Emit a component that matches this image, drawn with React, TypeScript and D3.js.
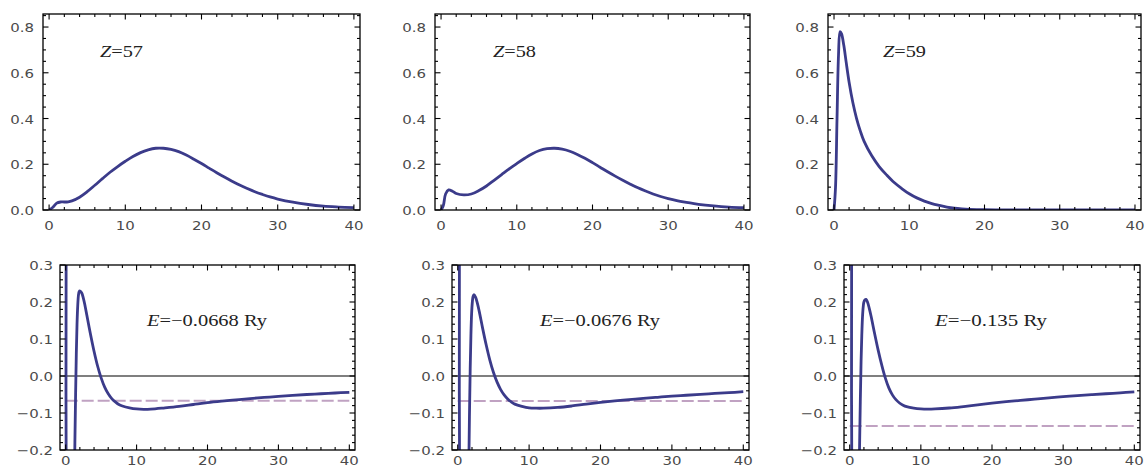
import React from "react";
import * as d3 from "d3";

// ---------- data ----------
const zValues = [57, 58, 59];
const energies = [-0.0668, -0.0676, -0.135];
const energyLabels = ["−0.0668", "−0.0676", "−0.135"];

const xMajorTicks = [0, 10, 20, 30, 40];
const topYTicks = [0, 0.2, 0.4, 0.6, 0.8];
const bottomYTicks = [-0.2, -0.1, 0, 0.1, 0.2, 0.3];

// radial densities (top row)
const densR57 = [0, 0.5, 1, 1.5, 2, 2.5, 3, 4, 5, 6, 7, 8, 9, 10, 11, 12, 13, 14, 15, 16, 17, 18, 19, 20, 21, 22, 23, 24, 25, 26, 27, 28, 29, 30, 32, 34, 36, 38, 40];
const dens57 = [0, 0.012, 0.03, 0.035, 0.035, 0.036, 0.04, 0.056, 0.08, 0.108, 0.137, 0.165, 0.19, 0.213, 0.234, 0.251, 0.263, 0.27, 0.27, 0.265, 0.255, 0.24, 0.222, 0.203, 0.183, 0.163, 0.144, 0.126, 0.109, 0.094, 0.08, 0.068, 0.057, 0.048, 0.034, 0.024, 0.017, 0.013, 0.01];

const densR58 = [0, 0.3, 0.6, 1, 1.5, 2, 3, 4, 5, 6, 7, 8, 9, 10, 11, 12, 13, 14, 15, 16, 17, 18, 19, 20, 21, 22, 23, 24, 25, 26, 27, 28, 29, 30, 32, 34, 36, 38, 40];
const dens58 = [0, 0.02, 0.07, 0.088, 0.082, 0.072, 0.066, 0.07, 0.085, 0.105, 0.13, 0.155, 0.18, 0.203, 0.225, 0.245, 0.26, 0.268, 0.27, 0.266, 0.257, 0.243, 0.226, 0.207, 0.187, 0.167, 0.148, 0.13, 0.113, 0.097, 0.083, 0.07, 0.059, 0.05, 0.035, 0.025, 0.018, 0.013, 0.01];

const densR59 = [0, 0.2, 0.4, 0.6, 0.8, 1.0, 1.3, 1.6, 2, 2.5, 3, 3.5, 4, 5, 6, 7, 8, 9, 10, 11, 12, 13, 14, 15, 16, 17, 18, 20, 22, 25, 30, 40];
const dens59 = [0, 0.1, 0.4, 0.68, 0.78, 0.77, 0.72, 0.65, 0.56, 0.47, 0.4, 0.345, 0.3, 0.238, 0.19, 0.153, 0.12, 0.094, 0.071, 0.053, 0.039, 0.028, 0.02, 0.013, 0.008, 0.005, 0.003, 0.001, 0.0005, 0.0002, 0, 0];

// potentials (bottom row)
const potR57 = [0.08, 0.12, 0.5, 1.0, 1.2, 1.3, 1.4, 1.5, 1.6, 1.7, 1.8, 1.9, 2.0, 2.25, 2.5, 2.75, 3.0, 3.5, 4.0, 4.5, 5.0, 5.5, 6.0, 6.5, 7.0, 7.5, 8, 9, 10, 11, 12, 14, 16, 18, 20, 22, 24, 26, 28, 30, 32, 34, 36, 38, 40];
const pot57 = [0.6, -0.6, -1, -0.6, -0.35, -0.18, -0.05, 0.06, 0.14, 0.19, 0.218, 0.228, 0.23, 0.225, 0.21, 0.188, 0.163, 0.113, 0.067, 0.027, -0.005, -0.03, -0.048, -0.061, -0.07, -0.077, -0.081, -0.086, -0.089, -0.09, -0.0895, -0.086, -0.082, -0.077, -0.072, -0.068, -0.0645, -0.061, -0.058, -0.055, -0.0525, -0.05, -0.048, -0.046, -0.044];

const potR58 = [0.25, 0.33, 0.8, 1.4, 1.55, 1.65, 1.75, 1.85, 1.95, 2.05, 2.15, 2.28, 2.5, 2.75, 3.0, 3.5, 4.0, 4.5, 5.0, 5.5, 6.0, 6.5, 7.0, 7.5, 8, 9, 10, 11, 12, 14, 16, 18, 20, 22, 24, 26, 28, 30, 32, 34, 36, 38, 40];
const pot58 = [0.6, -0.6, -1, -0.5, -0.25, -0.1, 0.02, 0.11, 0.17, 0.2, 0.215, 0.22, 0.213, 0.197, 0.176, 0.128, 0.083, 0.043, 0.01, -0.016, -0.036, -0.051, -0.062, -0.07, -0.076, -0.082, -0.086, -0.087, -0.087, -0.085, -0.081, -0.076, -0.0715, -0.0675, -0.064, -0.0605, -0.0575, -0.0545, -0.052, -0.0495, -0.0472, -0.045, -0.0425];

const potR59 = [0.28, 0.36, 0.8, 1.2, 1.38, 1.5, 1.6, 1.7, 1.8, 1.9, 2.0, 2.15, 2.3, 2.5, 2.75, 3.0, 3.5, 4.0, 4.5, 5.0, 5.5, 6.0, 6.5, 7.0, 7.5, 8, 9, 10, 11, 12, 14, 16, 18, 20, 22, 24, 26, 28, 30, 32, 34, 36, 38, 40];
const pot59 = [0.6, -0.6, -1, -0.5, -0.2, -0.06, 0.04, 0.11, 0.16, 0.187, 0.2, 0.206, 0.207, 0.2, 0.183, 0.162, 0.115, 0.07, 0.03, -0.005, -0.032, -0.051, -0.064, -0.073, -0.079, -0.083, -0.087, -0.089, -0.0895, -0.089, -0.0865, -0.0825, -0.078, -0.0735, -0.0695, -0.066, -0.0625, -0.059, -0.056, -0.053, -0.0505, -0.048, -0.0455, -0.043];

// ---------- layout ----------
const W = 1146;
const H = 474;
const topFrames = [
  { left: 43, right: 360, top: 14, bottom: 210 },
  { left: 435, right: 750, top: 14, bottom: 210 },
  { left: 828, right: 1141, top: 14, bottom: 210 },
];
const bottomFrames = [
  { left: 60, right: 355, top: 265, bottom: 450 },
  { left: 452, right: 749, top: 265, bottom: 450 },
  { left: 844, right: 1140, top: 265, bottom: 450 },
];
const zLabelPos = [{ x: 100 }, { x: 493 }, { x: 883 }];
const eLabelPos = [{ x: 147, w: 120 }, { x: 540, w: 120 }, { x: 935, w: 112 }];

const CURVE = "#3b3b8a";
const DASH = "#c0a2c2";
const TICKFONT = "DejaVu Sans";

type Frame = { left: number; right: number; top: number; bottom: number };

function Panel(props: {
  id: string;
  frame: Frame;
  yDomain: [number, number];
  yMajor: number[];
  yMinor: number[];
  xs: number[];
  ys: number[];
  bottom: boolean;
  energy?: number;
  children?: React.ReactNode;
}) {
  const { id, frame, yDomain, yMajor, yMinor, xs, ys, bottom, energy } = props;
  const x = d3.scaleLinear().domain([-0.8, 40.8]).range([frame.left, frame.right]);
  const y = d3.scaleLinear().domain(yDomain).range([frame.bottom, frame.top]);
  const pts: [number, number][] = xs.map((v, i) => [v, ys[i]]);
  const line = d3
    .line<[number, number]>()
    .x((d) => x(d[0]))
    .y((d) => y(d[1]))
    .curve(d3.curveCatmullRom.alpha(0.5));
  const xMinor = d3.range(0, 40.001, 2).filter((v) => v % 10 !== 0);
  const fmtY = d3.format(".1f");
  const major = 5.5;
  const minor = 3;
  const labelOffset = bottom ? 7 : 9;
  return (
    <g>
      <defs>
        <clipPath id={id}>
          <rect x={frame.left} y={frame.top} width={frame.right - frame.left} height={frame.bottom - frame.top} />
        </clipPath>
      </defs>
      <g clipPath={`url(#${id})`}>
        {bottom && (
          <line x1={frame.left} x2={frame.right} y1={y(0)} y2={y(0)} stroke="#000" strokeWidth={1.2} />
        )}
        {energy !== undefined && (
          <line
            x1={x(0)}
            x2={x(40)}
            y1={y(energy)}
            y2={y(energy)}
            stroke={DASH}
            strokeWidth={2}
            strokeDasharray="12,4"
          />
        )}
        <path d={line(pts) || ""} fill="none" stroke={CURVE} strokeWidth={2.8} strokeLinejoin="round" />
      </g>
      <rect
        x={frame.left}
        y={frame.top}
        width={frame.right - frame.left}
        height={frame.bottom - frame.top}
        fill="none"
        stroke="#000"
        strokeWidth={1.3}
      />
      {xMajorTicks.map((t) => (
        <g key={"xM" + t}>
          <line x1={x(t)} x2={x(t)} y1={frame.bottom} y2={frame.bottom - major} stroke="#000" strokeWidth={1.1} />
          <line x1={x(t)} x2={x(t)} y1={frame.top} y2={frame.top + major} stroke="#000" strokeWidth={1.1} />
          <text
            x={0}
            y={0}
            transform={`translate(${x(t)},${frame.bottom + (bottom ? 15 : 20)}) scale(1.15,1)`}
            textAnchor="middle"
            fontFamily={TICKFONT}
            fontSize={13}
            fill="#4a4a4a"
          >
            {String(t)}
          </text>
        </g>
      ))}
      {xMinor.map((t) => (
        <g key={"xm" + t}>
          <line x1={x(t)} x2={x(t)} y1={frame.bottom} y2={frame.bottom - minor} stroke="#000" strokeWidth={1.1} />
          <line x1={x(t)} x2={x(t)} y1={frame.top} y2={frame.top + minor} stroke="#000" strokeWidth={1.1} />
        </g>
      ))}
      {yMajor.map((t) => (
        <g key={"yM" + t}>
          <line x1={frame.left} x2={frame.left + major} y1={y(t)} y2={y(t)} stroke="#000" strokeWidth={1.1} />
          <line x1={frame.right} x2={frame.right - major} y1={y(t)} y2={y(t)} stroke="#000" strokeWidth={1.1} />
          <text
            x={0}
            y={0}
            transform={`translate(${frame.left - labelOffset},${y(t) + 5}) scale(1.15,1)`}
            textAnchor="end"
            fontFamily={TICKFONT}
            fontSize={13}
            fill="#4a4a4a"
          >
            {fmtY(t)}
          </text>
        </g>
      ))}
      {yMinor.map((t, i) => (
        <g key={"ym" + i}>
          <line x1={frame.left} x2={frame.left + minor} y1={y(t)} y2={y(t)} stroke="#000" strokeWidth={1.1} />
          <line x1={frame.right} x2={frame.right - minor} y1={y(t)} y2={y(t)} stroke="#000" strokeWidth={1.1} />
        </g>
      ))}
      {props.children}
    </g>
  );
}

export default function App() {
  const topMinor = d3.range(0, 0.851, 0.05).filter((v) => Math.abs(Math.round(v * 5) - v * 5) > 1e-6);
  const botMinor = d3.range(-0.2, 0.3001, 0.02).filter((v) => Math.abs(Math.round(v * 10) - v * 10) > 1e-6);
  const densX = [densR57, densR58, densR59];
  const densY = [dens57, dens58, dens59];
  const potX = [potR57, potR58, potR59];
  const potY = [pot57, pot58, pot59];
  return (
    <svg
      width={W}
      height={H}
      viewBox={`0 0 ${W} ${H}`}
      style={{ position: "absolute", left: 0, top: 0, background: "#fff" }}
    >
      <rect x={0} y={0} width={W} height={H} fill="#fff" />
      {zValues.map((z, i) => (
        <Panel
          key={"top" + z}
          id={"clipTop" + i}
          frame={topFrames[i]}
          yDomain={[0, 0.857]}
          yMajor={topYTicks}
          yMinor={topMinor}
          xs={densX[i]}
          ys={densY[i]}
          bottom={false}
        >
          <text
            x={zLabelPos[i].x}
            y={57}
            fontFamily="Liberation Serif"
            fontSize={17}
            fill="#222"
            textLength={43}
            lengthAdjust="spacingAndGlyphs"
          >
            <tspan fontStyle="italic">Z</tspan>={z}
          </text>
        </Panel>
      ))}
      {energies.map((e, i) => (
        <Panel
          key={"bot" + i}
          id={"clipBot" + i}
          frame={bottomFrames[i]}
          yDomain={[-0.2, 0.3]}
          yMajor={bottomYTicks}
          yMinor={botMinor}
          xs={potX[i]}
          ys={potY[i]}
          bottom={true}
          energy={e}
        >
          <text
            x={eLabelPos[i].x}
            y={326}
            fontFamily="Liberation Serif"
            fontSize={17}
            fill="#222"
            textLength={eLabelPos[i].w}
            lengthAdjust="spacingAndGlyphs"
          >
            <tspan fontStyle="italic">E</tspan>={energyLabels[i]} Ry
          </text>
        </Panel>
      ))}
    </svg>
  );
}
